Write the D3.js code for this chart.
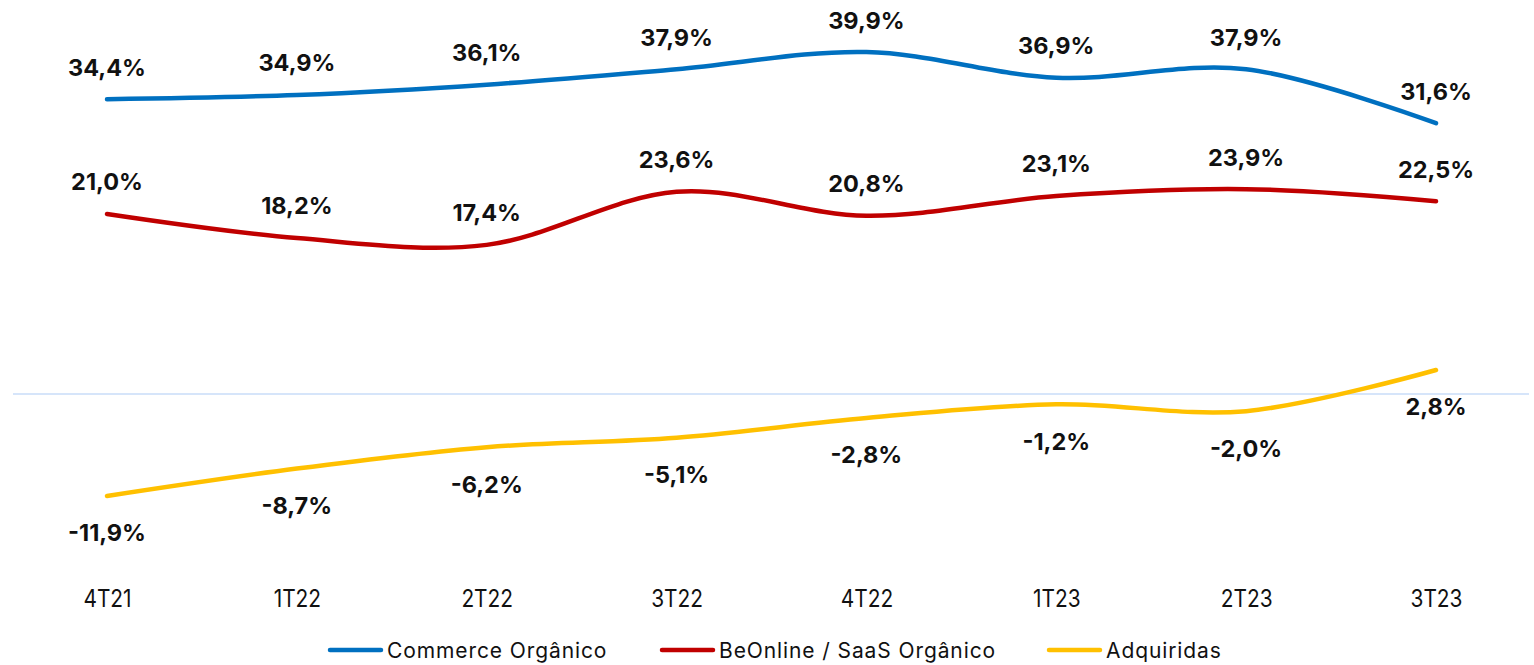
<!DOCTYPE html>
<html><head><meta charset="utf-8">
<script src="https://cdn.jsdelivr.net/npm/d3@7"></script>
<style>body{margin:0;background:#fff;} svg{display:block;font-family:Inter, "Noto Sans", sans-serif;}</style>
</head><body><svg id="c" width="1534" height="665"></svg>
<script>
const categories = ["4T21","1T22","2T22","3T22","4T22","1T23","2T23","3T23"];
const commerce = [34.4,34.9,36.1,37.9,39.9,36.9,37.9,31.6];
const beonline = [21.0,18.2,17.4,23.6,20.8,23.1,23.9,22.5];
const adquiridas = [-11.9,-8.7,-6.2,-5.1,-2.8,-1.2,-2.0,2.8];
const seriesNames = ["Commerce Orgânico","BeOnline / SaaS Orgânico","Adquiridas"];
const colors = ["#0070C0","#C00000","#FFC000"];

const svg = d3.select("#c");
const x = d3.scalePoint().domain(categories).range([107,1436]);
const y = d3.scaleLinear().domain([0,34.4]).range([394,99.2]);

svg.append("line").attr("x1",13).attr("x2",1529).attr("y1",y(0)).attr("y2",y(0))
  .attr("stroke","#C9DCF8").attr("stroke-width",1.5);

const series = [commerce, beonline, adquiridas];
const line = d3.line().x((d,i)=>x(categories[i])).y(d=>y(d)).curve(d3.curveCardinal.tension(0));
const fmt = v => v.toFixed(1).replace(".",",") + "%";

series.forEach((s,k)=>{
  svg.append("path").datum(s).attr("d",line).attr("fill","none")
    .attr("stroke",colors[k]).attr("stroke-width",4.5).attr("stroke-linecap","round");
});
series.forEach((s,k)=>{
  svg.selectAll(null).data(s).enter().append("text")
    .attr("x",(d,i)=>x(categories[i]))
    .attr("y",d=> k===2 ? y(d)+37 : y(d)-32)
    .attr("dy","0.36em")
    .attr("text-anchor","middle").attr("font-size",23.5).attr("font-weight",700).attr("fill","#111")
    .text(fmt);
});

const xAxis = d3.axisBottom(x).tickSize(0).tickPadding(0);
const g = svg.append("g").attr("transform","translate(0,598)").call(xAxis);
g.select(".domain").remove();
g.selectAll(".tick text").attr("font-size",24).attr("fill","#111").attr("dy","0.36em").attr("y",0)
  .attr("transform","scale(0.87,1)")
  .style("font-family","Inter, 'Noto Sans', sans-serif");

const legendX = [328,660,1047];
seriesNames.forEach((n,k)=>{
  svg.append("line").attr("x1",legendX[k]+2).attr("x2",legendX[k]+53).attr("y1",650).attr("y2",650)
    .attr("stroke",colors[k]).attr("stroke-width",4.5).attr("stroke-linecap","round");
  svg.append("text").attr("x",legendX[k]+59).attr("y",650).attr("dy","0.36em")
    .attr("font-size",21).attr("letter-spacing",0.9).attr("fill","#111").text(n);
});
</script></body></html>
